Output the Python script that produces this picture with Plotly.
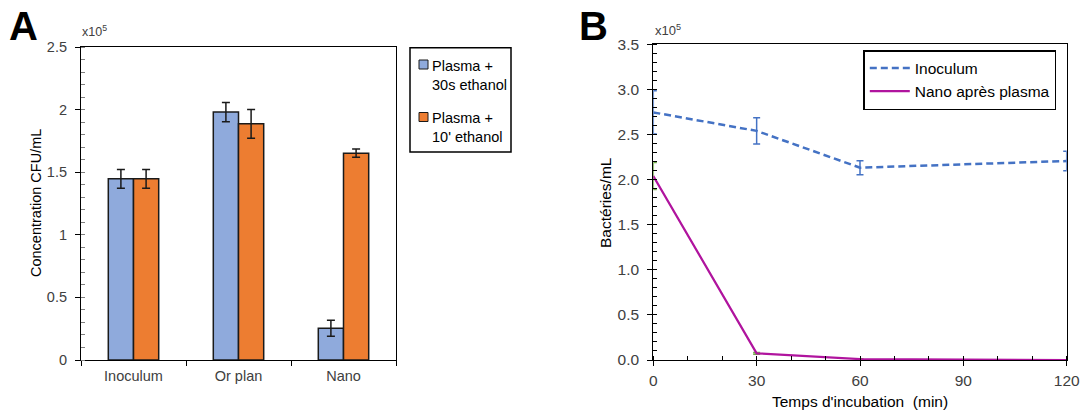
import plotly.graph_objects as go

# ---------- Data ----------
categories = ["Inoculum", "Or plan", "Nano"]
series_a_names = ["Plasma +<br>30s ethanol", "Plasma +<br>10' ethanol"]
plasma_30s = [1.447, 1.98, 0.253]
plasma_30s_err = [0.075, 0.077, 0.064]
plasma_10m = [1.447, 1.886, 1.652]
plasma_10m_err = [0.075, 0.115, 0.033]

time_min = [0, 30, 60, 120]
inoculum = [2.745, 2.54, 2.132, 2.206]
inoculum_err = [0.24, 0.145, 0.078, 0.107]
nano_plasma = [2.04, 0.074, 0.01, 0.0]
nano_plasma_err = [0.15, 0.01, 0.003, 0.0]

W, H = 1081, 415
FONT = "Liberation Sans, Arial, sans-serif"
TXT = "#404040"
BLUE_BAR = "#8FAADC"
ORANGE_BAR = "#ED7D31"

def px(x):
    return x / W

def py(y):
    return 1 - y / H

fig = go.Figure()

# ---------- Panel A ----------
fig.add_trace(go.Bar(
    x=categories, y=plasma_30s, name=series_a_names[0], showlegend=False,
    marker=dict(color=BLUE_BAR, line=dict(color="#1a1a1a", width=1.5)),
    error_y=dict(type="data", array=plasma_30s_err, color="#1a1a1a", thickness=1.5, width=4),
    xaxis="x", yaxis="y",
))
fig.add_trace(go.Bar(
    x=categories, y=plasma_10m, name=series_a_names[1], showlegend=False,
    marker=dict(color=ORANGE_BAR, line=dict(color="#1a1a1a", width=1.5)),
    error_y=dict(type="data", array=plasma_10m_err, color="#1a1a1a", thickness=1.5, width=4),
    xaxis="x", yaxis="y",
))

# ---------- Panel B ----------
fig.add_trace(go.Scatter(
    x=time_min, y=inoculum, name="Inoculum", mode="lines",
    line=dict(color="#4472C4", width=2.5, dash="7px,4px"),
    error_y=dict(type="data", array=inoculum_err, color="#4472C4", thickness=1.5, width=3.5),
    xaxis="x2", yaxis="y2",
))
fig.add_trace(go.Scatter(
    x=time_min, y=nano_plasma, name="Nano après plasma", mode="lines",
    line=dict(color="#B0149E", width=2.25),
    error_y=dict(type="data", array=nano_plasma_err, color="#70AD47", thickness=1.5, width=3.5),
    xaxis="x2", yaxis="y2",
))

def axis_common(size, standoff):
    return dict(
        showline=True, linecolor="black", linewidth=1.2, mirror=True,
        showgrid=False, zeroline=False, automargin=False,
        tickfont=dict(family=FONT, size=size, color=TXT),
        ticks="outside", ticklen=5, tickcolor="black",
        ticklabelstandoff=standoff,
    )

fig.update_layout(
    template="none",
    width=W, height=H,
    margin=dict(l=0, r=0, t=0, b=0, autoexpand=False),
    paper_bgcolor="white", plot_bgcolor="white",
    barmode="group", bargap=0.52, bargroupgap=0.0,
    font=dict(family=FONT, size=14.5, color=TXT),
    xaxis=dict(domain=[px(81), px(396)], anchor="y", tickson="boundaries",
               **axis_common(14.5, 2)),
    yaxis=dict(domain=[py(360), py(47)], anchor="x", range=[0, 2.5],
               tickvals=[0, 0.5, 1, 1.5, 2, 2.5],
               ticktext=["0", "0.5", "1", "1.5", "2", "2.5"],
               minor=dict(ticks="inside", dtick=0.1, ticklen=4, tickcolor="#808080"),
               **axis_common(14.5, 5)),
    xaxis2=dict(domain=[px(653.3), px(1066.7)], anchor="y2", range=[0, 120],
                tickvals=[0, 30, 60, 90, 120],
                minor=dict(ticks="inside", dtick=10, ticklen=4, tickcolor="black"),
                **axis_common(15.5, 1)),
    yaxis2=dict(domain=[py(360), py(44.3)], anchor="x2", range=[0, 3.5],
                tickvals=[0, 0.5, 1, 1.5, 2, 2.5, 3, 3.5], tickformat=".1f",
                minor=dict(ticks="inside", dtick=0.1, ticklen=4, tickcolor="black"),
                **axis_common(15.5, 5)),
    legend=dict(x=px(863.3), y=py(50), xanchor="left", yanchor="top",
                bordercolor="black", borderwidth=1.5, bgcolor="white",
                font=dict(family=FONT, size=15.5, color="black"),
                itemwidth=40),
    showlegend=True,
)

# Custom legend box for panel A (bars)
fig.add_shape(type="rect", xref="paper", yref="paper",
              x0=px(410), x1=px(511), y0=py(152), y1=py(47.7),
              line=dict(color="black", width=1.5), fillcolor="white")
leg_a = [(64.5, BLUE_BAR, series_a_names[0]), (117, ORANGE_BAR, series_a_names[1])]
for yc, col, name in leg_a:
    fig.add_shape(type="rect", xref="paper", yref="paper",
                  x0=px(419), x1=px(428), y0=py(yc + 4.5), y1=py(yc - 4.5),
                  line=dict(color="#1a1a1a", width=1), fillcolor=col)
    fig.add_annotation(text=name, x=px(430), y=py(yc - 9), xref="paper", yref="paper",
                       showarrow=False, xanchor="left", yanchor="top", align="left",
                       font=dict(size=14.5, color="black", family=FONT))

ann = [
    dict(text="<b>A</b>", x=px(23), y=py(26), font=dict(size=40, color="black", family=FONT)),
    dict(text="<b>B</b>", x=px(593), y=py(26), font=dict(size=40, color="black", family=FONT)),
    dict(text="x10<sup>5</sup>", x=px(94), y=py(31), font=dict(size=12.5, color=TXT, family=FONT)),
    dict(text="x10<sup>5</sup>", x=px(668), y=py(30), font=dict(size=13, color=TXT, family=FONT)),
    dict(text="Concentration CFU/mL", x=px(36), y=py(203), textangle=-90,
         font=dict(size=14.5, color="black", family=FONT)),
    dict(text="Bactéries/mL", x=px(605), y=py(203), textangle=-90,
         font=dict(size=15.5, color="black", family=FONT)),
    dict(text="Temps d'incubation  (min)", x=px(860), y=py(401),
         font=dict(size=15.5, color="black", family=FONT)),
]
for a in ann:
    a.update(xref="paper", yref="paper", showarrow=False, xanchor="center", yanchor="middle")
    fig.add_annotation(**a)

fig.write_html(
    "out.html",
    config={"displayModeBar": False},
    post_script="document.body.style.margin='0';document.body.style.overflow='hidden';",
)
